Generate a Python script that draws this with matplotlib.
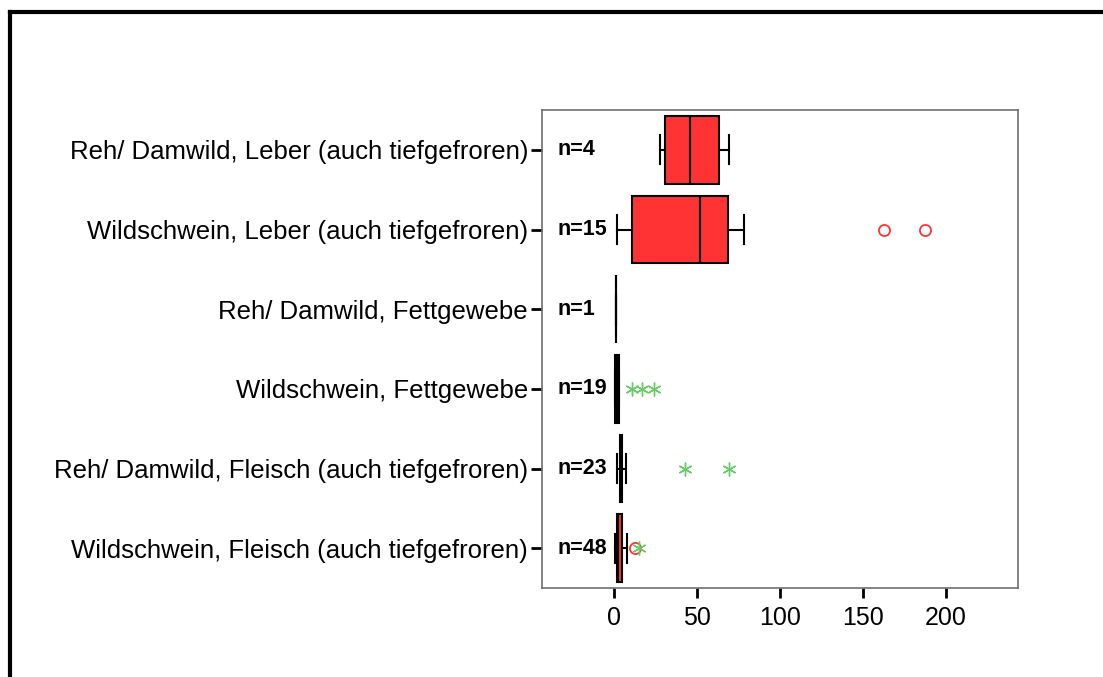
import numpy as np
import matplotlib.pyplot as plt
from matplotlib.lines import Line2D

plt.rcParams['font.family'] = ['Liberation Sans', 'DejaVu Sans']

# categories, top to bottom
categories = [
    "Reh/ Damwild, Leber (auch tiefgefroren)",
    "Wildschwein, Leber (auch tiefgefroren)",
    "Reh/ Damwild, Fettgewebe",
    "Wildschwein, Fettgewebe",
    "Reh/ Damwild, Fleisch (auch tiefgefroren)",
    "Wildschwein, Fleisch (auch tiefgefroren)",
]
n_counts = [4, 15, 1, 19, 23, 48]

# box statistics
q1 = [30.7, 10.6, 1.2, 0.4, 3.6, 1.8]
med = [45.8, 51.6, 1.2, 1.6, 4.2, 2.2]
q3 = [63.3, 68.5, 1.2, 2.8, 4.6, 4.8]
whislo = [27.7, 2.0, 1.2, 0.4, 1.8, 0.6]
whishi = [69.3, 78.3, 1.2, 2.8, 7.2, 7.8]

# outliers (circles) and extremes (asterisks)
outliers = [[], [162.7, 187.5], [], [], [], [12.7]]
extremes = [[], [], [], [11, 17, 24], [42.8, 69.3], [15]]

xticks = [0, 50, 100, 150, 200]

red = '#ff3333'
green = '#66cc66'

fig = plt.figure(figsize=(11.03, 6.77), dpi=100)
ax = fig.add_axes([542 / 1103, 1 - 588 / 677, 476 / 1103, 478 / 677])

pos = np.arange(len(categories), 0, -1)
stats = []
for i in range(len(categories)):
    stats.append(dict(q1=q1[i], med=med[i], q3=q3[i],
                      whislo=whislo[i], whishi=whishi[i], fliers=[]))

ax.bxp(stats, positions=pos, vert=False, widths=0.85, capwidths=0.36,
       patch_artist=True, showfliers=False,
       boxprops=dict(facecolor=red, edgecolor='black', linewidth=1.5),
       medianprops=dict(color='black', linewidth=1.5),
       whiskerprops=dict(color='black', linewidth=1.5),
       capprops=dict(color='black', linewidth=1.5))

for i, y in enumerate(pos):
    if outliers[i]:
        ax.plot(outliers[i], [y] * len(outliers[i]), 'o', mfc='none',
                mec=red, ms=8, mew=1.3)
    if extremes[i]:
        ax.plot(extremes[i], [y] * len(extremes[i]), marker=(6, 2, 0),
                ls='none', mec=green, ms=10, mew=1.0)
    ax.text(-34, y, f"n={n_counts[i]}", fontsize=15.5, fontweight='bold',
            va='center', ha='left')

ax.set_xlim(-43.4, 243.4)
ax.set_ylim(0.5, 6.5)
ax.set_yticks(pos)
ax.set_yticklabels(categories, fontsize=18.5)
ax.set_xticks(xticks)
ax.set_xticklabels([str(t) for t in xticks], fontsize=18)
ax.tick_params(axis='y', length=8, width=2, pad=2)
ax.tick_params(axis='x', length=7, width=2, pad=6)
for s in ax.spines.values():
    s.set_color('#707070')
    s.set_linewidth(1.2)

# outer frame (only top and left visible)
fig.add_artist(Line2D([10 / 1103, 10 / 1103], [0, 1 - 12 / 677],
                      transform=fig.transFigure, color='black', lw=3))
fig.add_artist(Line2D([10 / 1103, 1], [1 - 12 / 677, 1 - 12 / 677],
                      transform=fig.transFigure, color='black', lw=3))

fig.savefig('out.png', dpi=100)
